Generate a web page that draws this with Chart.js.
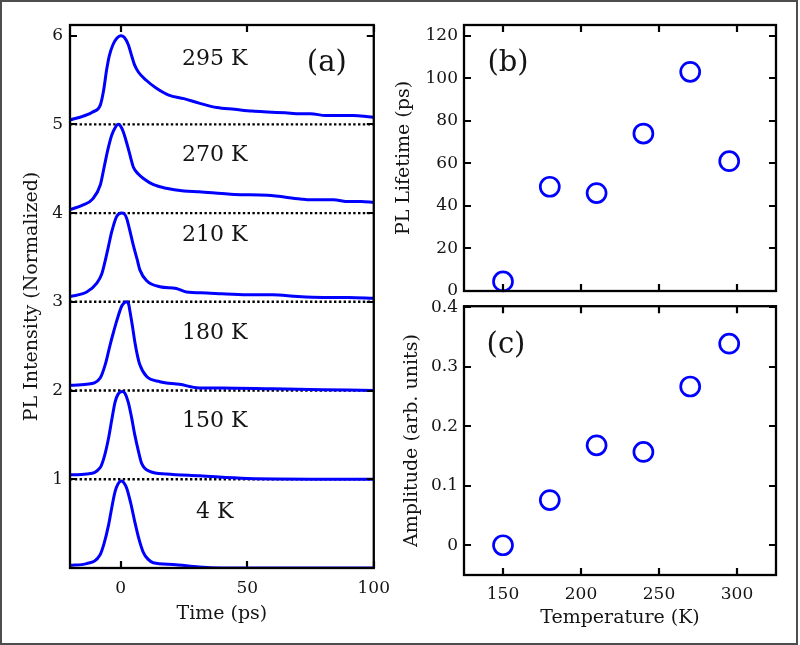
<!DOCTYPE html>
<html><head><meta charset="utf-8">
<script src="https://cdn.jsdelivr.net/npm/chart.js@4/dist/chart.umd.min.js"></script>
<style>
html,body{margin:0;padding:0;background:#fff;}
#wrap{position:relative;width:800px;height:645px;overflow:hidden;background:#fff;}
canvas{position:absolute;}
#border{position:absolute;left:0;top:0;width:798px;height:645px;box-sizing:border-box;border:2px solid #4d4d4d;pointer-events:none;}
</style></head><body>
<div id="wrap">
<canvas id="ca" style="left:0;top:0;width:400px;height:645px" width="400" height="645"></canvas>
<canvas id="cb" style="left:380px;top:0;width:420px;height:310px" width="420" height="310"></canvas>
<canvas id="cc" style="left:380px;top:290px;width:420px;height:355px" width="420" height="355"></canvas>
<div id="border"></div>
</div>
<script>
// ---------- Panel (a): normalized PL transients, offset vertically ----------
const traceLabels = ['295 K', '270 K', '210 K', '180 K', '150 K', '4 K'];
const traceOffsets = [5, 4, 3, 2, 1, 0];

const time295 = [-20, -15, -11, -8, -6.8, -5.5, -4.5, -3, -1.5, 0, 1.5, 3, 4.5, 5.5, 7, 10, 14, 19, 25, 31, 38, 45, 52, 58, 65, 71, 75, 81, 86, 92, 97, 100];
const pl295   = [0.05, 0.09, 0.14, 0.22, 0.37, 0.62, 0.77, 0.90, 0.97, 1.00, 0.98, 0.90, 0.76, 0.67, 0.59, 0.50, 0.41, 0.33, 0.29, 0.24, 0.19, 0.17, 0.15, 0.14, 0.13, 0.12, 0.12, 0.10, 0.10, 0.10, 0.09, 0.08];

const time270 = [-20, -15, -11, -8, -6.5, -5, -3.5, -2, -1, 0, 1, 2, 3, 4, 5, 7, 9, 13, 18, 25, 31, 40, 45, 58, 71, 75, 84, 90, 95, 100];
const pl270   = [0.04, 0.09, 0.16, 0.32, 0.52, 0.72, 0.88, 0.97, 1.00, 0.98, 0.92, 0.83, 0.73, 0.62, 0.52, 0.44, 0.39, 0.32, 0.28, 0.25, 0.24, 0.22, 0.21, 0.20, 0.16, 0.15, 0.15, 0.13, 0.13, 0.12];

const time210 = [-20, -13.4, -9.4, -7.5, -6.2, -5, -3.5, -1.6, 0.4, 1.5, 2.4, 3.5, 5, 6.5, 7.6, 10.2, 15.5, 22, 26, 34, 40, 50, 60, 70, 80, 90, 100];
const pl210   = [0.06, 0.11, 0.21, 0.31, 0.45, 0.60, 0.79, 0.96, 1.00, 0.99, 0.94, 0.82, 0.64, 0.48, 0.36, 0.24, 0.17, 0.15, 0.11, 0.10, 0.09, 0.08, 0.08, 0.06, 0.05, 0.05, 0.04];

const time180 = [-20, -13.4, -8.1, -6, -4.2, -2.8, -1.6, 0.4, 1.5, 2.4, 3.2, 3.7, 4.6, 5.6, 6.6, 7.6, 10.2, 15.5, 23.3, 31, 40, 60, 80, 100];
const pl180   = [0.06, 0.07, 0.14, 0.30, 0.51, 0.66, 0.78, 0.95, 0.99, 1.00, 0.97, 0.89, 0.74, 0.55, 0.40, 0.29, 0.16, 0.10, 0.07, 0.03, 0.03, 0.02, 0.01, 0.00];

const time150 = [-20, -13.4, -8.1, -6.5, -4.8, -3.5, -2.2, -1, 0.6, 1.7, 3, 4.3, 5.6, 7, 8.3, 11.5, 18.1, 31.2, 50, 100];
const pl150   = [0.05, 0.06, 0.13, 0.25, 0.46, 0.67, 0.87, 0.96, 0.99, 0.97, 0.87, 0.70, 0.50, 0.32, 0.18, 0.09, 0.06, 0.04, 0.01, 0.00];

const time4 = [-20, -13.4, -8.1, -6.5, -4.8, -3.5, -2.2, -1, 0.3, 1.3, 2.4, 4, 5.6, 7.2, 8.9, 10.8, 12.9, 20.7, 31, 40, 100];
const pl4   = [0.03, 0.05, 0.15, 0.28, 0.48, 0.68, 0.86, 0.95, 0.98, 0.96, 0.90, 0.73, 0.52, 0.33, 0.18, 0.10, 0.06, 0.04, 0.01, 0.00, 0.00];

const timeTicks = [0, 50, 100];
const intensityTicks = [1, 2, 3, 4, 5, 6];

// ---------- Panels (b) and (c) ----------
const temperatures = [150, 180, 210, 240, 270, 295];
const lifetimes = [4.5, 49, 46, 74, 103, 61];
const amplitudes = [0, 0.076, 0.168, 0.157, 0.267, 0.339];
const temperatureTicks = [150, 200, 250, 300];
const lifetimeTicks = [0, 20, 40, 60, 80, 100, 120];
const amplitudeTicks = [0, 0.1, 0.2, 0.3, 0.4];
const amplitudeTickLabels = ['0', '0.1', '0.2', '0.3', '0.4'];

// ---------- styling ----------
const FONT = "'DejaVu Serif', 'Liberation Serif', serif";
const TXT = '#141414';
const BLUE = '#0000ff';
const TICK_SIZE = 17;
const TITLE_SIZE = 19;
Chart.defaults.font.family = FONT;
Chart.defaults.color = TXT;

const framePlugin = {
  id: 'frameTicks',
  afterDraw(chart) {
    const {ctx, chartArea: a, scales} = chart;
    const L = 7;
    ctx.save();
    ctx.strokeStyle = '#000';
    ctx.lineWidth = 2.2;
    ctx.beginPath();
    scales.x.ticks.forEach(t => {
      const p = Math.round(scales.x.getPixelForValue(t.value));
      ctx.moveTo(p, a.bottom); ctx.lineTo(p, a.bottom - L);
      ctx.moveTo(p, a.top); ctx.lineTo(p, a.top + L);
    });
    scales.y.ticks.forEach(t => {
      const p = Math.round(scales.y.getPixelForValue(t.value));
      ctx.moveTo(a.left, p); ctx.lineTo(a.left + L, p);
      ctx.moveTo(a.right, p); ctx.lineTo(a.right - L, p);
    });
    ctx.stroke();
    ctx.lineWidth = 2.3;
    ctx.strokeRect(a.left, a.top, a.right - a.left, a.bottom - a.top);
    ctx.restore();
  }
};

function panelLetter(text, dx, dy) {
  return {
    id: 'letter',
    afterDraw(chart) {
      const {ctx, chartArea: a} = chart;
      ctx.save();
      ctx.font = '29px ' + FONT;
      ctx.fillStyle = TXT;
      ctx.textAlign = 'center';
      ctx.textBaseline = 'middle';
      const x = dx < 0 ? a.right + dx : a.left + dx;
      ctx.fillText(text, x, a.top + dy);
      ctx.restore();
    }
  };
}

const labelLevels = [5.73, 4.65, 3.75, 2.64, 1.65, 0.63];
const traceLabelPlugin = {
  id: 'traceLabels',
  afterDatasetsDraw(chart) {
    const {ctx, scales} = chart;
    ctx.save();
    ctx.font = '22px ' + FONT;
    ctx.fillStyle = TXT;
    ctx.textAlign = 'center';
    ctx.textBaseline = 'middle';
    traceLabels.forEach((t, i) => {
      ctx.fillText(t, scales.x.getPixelForValue(37.2), scales.y.getPixelForValue(labelLevels[i]));
    });
    ctx.restore();
  }
};

function fixTicks(values) {
  return s => { s.ticks = values.map(v => ({value: v})); };
}

const pairs = (xs, ys, off) => xs.map((x, i) => ({x: x, y: ys[i] + off}));
const traces = [[time295, pl295], [time270, pl270], [time210, pl210], [time180, pl180], [time150, pl150], [time4, pl4]];

const curveSets = traces.map((tr, i) => ({
  label: traceLabels[i],
  data: pairs(tr[0], tr[1], traceOffsets[i]),
  borderColor: BLUE,
  borderWidth: 3,
  pointRadius: 0,
  fill: false,
  cubicInterpolationMode: 'monotone'
}));
const dottedSets = intensityTicks.slice(0, 5).map(v => ({
  label: 'base ' + v,
  data: [{x: -20, y: v}, {x: 100, y: v}],
  borderColor: '#000',
  borderWidth: 2.4,
  borderDash: [2.4, 2.4],
  pointRadius: 0,
  fill: false
}));

new Chart(document.getElementById('ca'), {
  type: 'line',
  data: {datasets: curveSets.concat(dottedSets)},
  options: {
    responsive: false, animation: false, events: [],
    layout: {padding: {left: 0, top: 25, right: 24, bottom: 0}},
    plugins: {legend: {display: false}, tooltip: {enabled: false}},
    scales: {
      x: {
        type: 'linear', min: -20, max: 100,
        afterBuildTicks: fixTicks(timeTicks),
        afterFit: s => { s.height = 77; },
        grid: {display: false, drawTicks: false}, border: {display: false},
        ticks: {padding: 10, font: {size: TICK_SIZE}, color: TXT, maxRotation: 0, autoSkip: false},
        title: {display: true, text: 'Time (ps)', font: {size: TITLE_SIZE}, color: TXT, padding: {top: 0, bottom: 20}}
      },
      y: {
        type: 'linear', min: 0, max: 6.12,
        afterBuildTicks: fixTicks(intensityTicks),
        afterFit: s => { s.width = 70; },
        grid: {display: false, drawTicks: false}, border: {display: false},
        ticks: {padding: 7, font: {size: TICK_SIZE}, color: TXT},
        title: {display: true, text: 'PL Intensity (Normalized)', font: {size: TITLE_SIZE}, color: TXT, padding: {top: 21, bottom: 0}}
      }
    }
  },
  plugins: [framePlugin, traceLabelPlugin, panelLetter('(a)', -47, 38)]
});

const scatterStyle = {
  showLine: false,
  pointStyle: 'circle',
  pointRadius: 9.5,
  pointBorderWidth: 2.7,
  borderColor: BLUE,
  pointBorderColor: BLUE,
  backgroundColor: 'rgba(0,0,0,0)',
  pointBackgroundColor: 'rgba(0,0,0,0)',
  clip: false
};

new Chart(document.getElementById('cb'), {
  type: 'scatter',
  data: {datasets: [Object.assign({label: 'PL Lifetime', data: temperatures.map((t, i) => ({x: t, y: lifetimes[i]}))}, scatterStyle)]},
  options: {
    responsive: false, animation: false, events: [],
    layout: {padding: {left: 0, top: 25, right: 24, bottom: 0}},
    plugins: {legend: {display: false}, tooltip: {enabled: false}},
    scales: {
      x: {
        type: 'linear', min: 125, max: 325,
        afterBuildTicks: fixTicks(temperatureTicks),
        afterFit: s => { s.height = 19; },
        grid: {display: false, drawTicks: false}, border: {display: false},
        ticks: {display: false}
      },
      y: {
        type: 'linear', min: 0, max: 125,
        afterBuildTicks: fixTicks(lifetimeTicks),
        afterFit: s => { s.width = 84; },
        grid: {display: false, drawTicks: false}, border: {display: false},
        ticks: {padding: 6, font: {size: TICK_SIZE}, color: TXT},
        title: {display: true, text: 'PL Lifetime (ps)', font: {size: TITLE_SIZE}, color: TXT, padding: {top: 13, bottom: 0}}
      }
    }
  },
  plugins: [framePlugin, panelLetter('(b)', 44, 38)]
});

new Chart(document.getElementById('cc'), {
  type: 'scatter',
  data: {datasets: [Object.assign({label: 'Amplitude', data: temperatures.map((t, i) => ({x: t, y: amplitudes[i]}))}, scatterStyle)]},
  options: {
    responsive: false, animation: false, events: [],
    layout: {padding: {left: 0, top: 16, right: 24, bottom: 0}},
    plugins: {legend: {display: false}, tooltip: {enabled: false}},
    scales: {
      x: {
        type: 'linear', min: 125, max: 325,
        afterBuildTicks: fixTicks(temperatureTicks),
        afterFit: s => { s.height = 70; },
        grid: {display: false, drawTicks: false}, border: {display: false},
        ticks: {padding: 9, font: {size: TICK_SIZE}, color: TXT, maxRotation: 0, autoSkip: false},
        title: {display: true, text: 'Temperature (K)', font: {size: TITLE_SIZE}, color: TXT, padding: {top: 0, bottom: 16}}
      },
      y: {
        type: 'linear', min: -0.05, max: 0.402,
        afterBuildTicks: fixTicks(amplitudeTicks),
        afterFit: s => { s.width = 84; },
        grid: {display: false, drawTicks: false}, border: {display: false},
        ticks: {padding: 6, font: {size: TICK_SIZE}, color: TXT, callback: (v, i) => amplitudeTickLabels[i]},
        title: {display: true, text: 'Amplitude (arb. units)', font: {size: TITLE_SIZE}, color: TXT, padding: {top: 21, bottom: 0}}
      }
    }
  },
  plugins: [framePlugin, panelLetter('(c)', 42, 39)]
});
</script>
</body></html>
